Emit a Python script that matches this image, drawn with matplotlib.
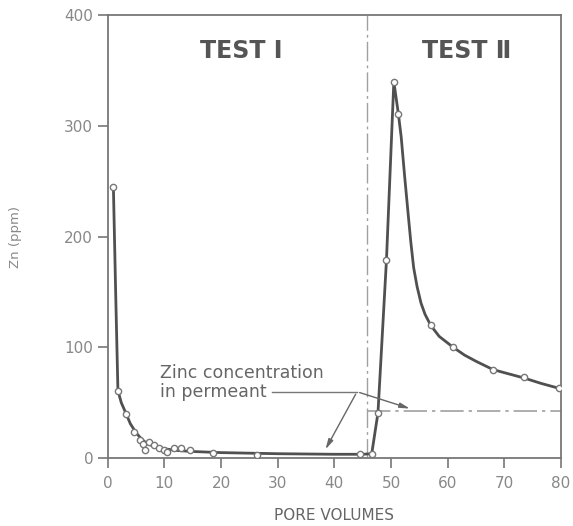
import matplotlib.pyplot as plt

# measured points (pore volumes, Zn ppm)
test1_x = [1.0, 1.8, 3.2, 4.6, 5.7, 6.3, 6.6, 7.3, 8.2, 9.1, 10.0, 10.5, 11.7, 12.9, 14.6, 18.6, 26.4, 44.6]
test1_y = [245, 61, 40, 24, 16, 12.6, 7, 15, 12, 9, 7, 6, 9, 9, 7, 4.5, 3, 4]
test2_x = [46.6, 47.7, 49.2, 50.5, 51.3, 57.0, 61.0, 68.0, 73.4, 79.7]
test2_y = [4, 41, 179, 340, 311, 120, 100, 80, 73, 63]

# drawn curve
curve_x = [1.0, 1.4, 1.8, 2.4, 3.0, 4.0, 5.0, 6.0, 7.0, 8.0, 10.0, 12.0, 15.0, 20.0, 30.0, 40.0, 45.0, 46.6,
           47.7, 49.2, 50.5, 51.3, 51.8, 52.4, 53.0, 53.5, 54.0, 54.6, 55.3, 56.0, 57.0, 58.5, 61.0,
           63.0, 65.0, 68.0, 70.5, 73.4, 76.5, 79.7]
curve_y = [245, 150, 61, 50, 43, 31, 23, 17, 13, 11, 8.5, 7, 6, 5, 4, 3.5, 3.5, 4,
           41, 179, 340, 311, 290, 255, 222, 195, 172, 155, 140, 130, 120, 110, 100,
           93, 87.5, 80, 76.5, 72.5, 67.5, 63]

permeant_level = 42.7
split_x = 45.8

fig = plt.figure(figsize=(5.73, 5.26), dpi=100)
ax = fig.add_axes([0.188, 0.129, 0.791, 0.842])

line_c = '#505050'
ax.plot(curve_x, curve_y, color=line_c, lw=2.0, zorder=3)
ax.plot(test1_x, test1_y, 'o', ms=4.5, mfc='white', mec='#777777', mew=1.0, zorder=4)
ax.plot(test2_x, test2_y, 'o', ms=4.5, mfc='white', mec='#777777', mew=1.0, zorder=4)

ax.axvline(split_x, color='#a0a0a0', lw=1.0, ls=(0, (14, 3, 2, 3)), zorder=2)
ax.plot([split_x, 80], [permeant_level, permeant_level], color='#a0a0a0', lw=1.2,
        ls=(0, (14, 3, 2, 3)), zorder=2)

ax.text(23.5, 368, 'TEST I', fontsize=17, fontweight='bold', color='#555555', ha='center', va='center')
ax.text(63.3, 368, 'TEST Ⅱ', fontsize=17, fontweight='bold', color='#555555', ha='center', va='center')

ax.text(9.3, 68.5, 'Zinc concentration\nin permeant', fontsize=12.5, color='#666666',
        ha='left', va='center', linespacing=1.1)
ax.plot([29.0, 44.0], [60, 60], color='#777777', lw=1.0)
arrow = dict(arrowstyle='-|>,head_length=0.6,head_width=0.15', color='#666666', lw=1.0)
ax.annotate('', xy=(38.2, 5.7), xytext=(44.0, 60), arrowprops=arrow)
ax.annotate('', xy=(53.8, 44), xytext=(44.0, 60), arrowprops=arrow)

ax.set_xlim(0, 80)
ax.set_ylim(0, 400)
ax.set_xticks(range(0, 81, 10))
ax.set_yticks(range(0, 401, 100))
for s in ax.spines.values():
    s.set_color('#777777')
    s.set_linewidth(1.3)
ax.tick_params(direction='out', length=7, width=1.2, color='#777777', labelcolor='#888888', labelsize=11)
ax.tick_params(axis='x', pad=6)
ax.set_xlabel('PORE VOLUMES', fontsize=11, color='#666666', labelpad=12)
ax.set_ylabel('Zn (ppm)', fontsize=9.5, color='#888888', labelpad=30)

fig.savefig('out.png', dpi=100)
